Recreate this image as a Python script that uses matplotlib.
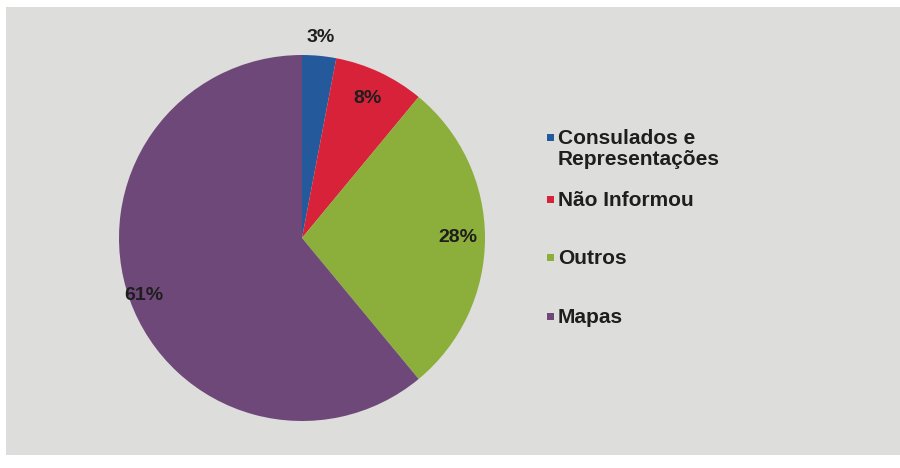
import numpy as np
import matplotlib.pyplot as plt
from matplotlib.patches import Rectangle

labels = ['Consulados e\nRepresentações', 'Não Informou', 'Outros', 'Mapas']
values = [3, 8, 28, 61]
colors = ['#245a9c', '#d8223a', '#8cae3a', '#6d4878']

# how far from the centre each percentage sits (fraction of radius)
label_dist = [1.1, 0.84, 0.85, 0.92]
# legend rows, figure pixels from the top
legend_y = [137, 199, 257, 316]

fig = plt.figure(figsize=(9, 4.68), dpi=100, facecolor='white')
fig.patches.append(Rectangle((6 / 900, 13 / 468), 1, 448 / 468, transform=fig.transFigure,
                             facecolor='#dddddb', edgecolor='none', zorder=-5))

cx, cy, r = 302, 238, 183
ax = fig.add_axes([(cx - r) / 900, (468 - cy - r) / 468, 2 * r / 900, 2 * r / 468])
ax.set_facecolor('none')
ax.set_zorder(2)

wedges, _ = ax.pie(values, colors=colors, startangle=90, counterclock=False,
                   wedgeprops=dict(linewidth=0))
ax.set_xlim(-1, 1)
ax.set_ylim(-1, 1)
ax.set_aspect('equal')

pct_font = dict(family='Liberation Sans', weight='bold', size=14, color='#1e1e1e')
for w, v, d in zip(wedges, values, label_dist):
    mid = np.deg2rad((w.theta1 + w.theta2) / 2)
    ax.text(d * np.cos(mid), d * np.sin(mid), f'{v}%', ha='center', va='center', **pct_font)

for lab, c, y in zip(labels, colors, legend_y):
    fig.patches.append(Rectangle((547 / 900, 1 - (y + 4) / 468), 7 / 900, 7 / 468,
                                 transform=fig.transFigure, facecolor=c, edgecolor='none'))
    fig.text(558 / 900, 1 - (y - 8) / 468, lab, ha='left', va='top', fontsize=15,
             fontweight='bold', family='Liberation Sans', color='#1e1e1e', linespacing=1.15)

fig.savefig('out.png', dpi=100, facecolor=fig.get_facecolor())
